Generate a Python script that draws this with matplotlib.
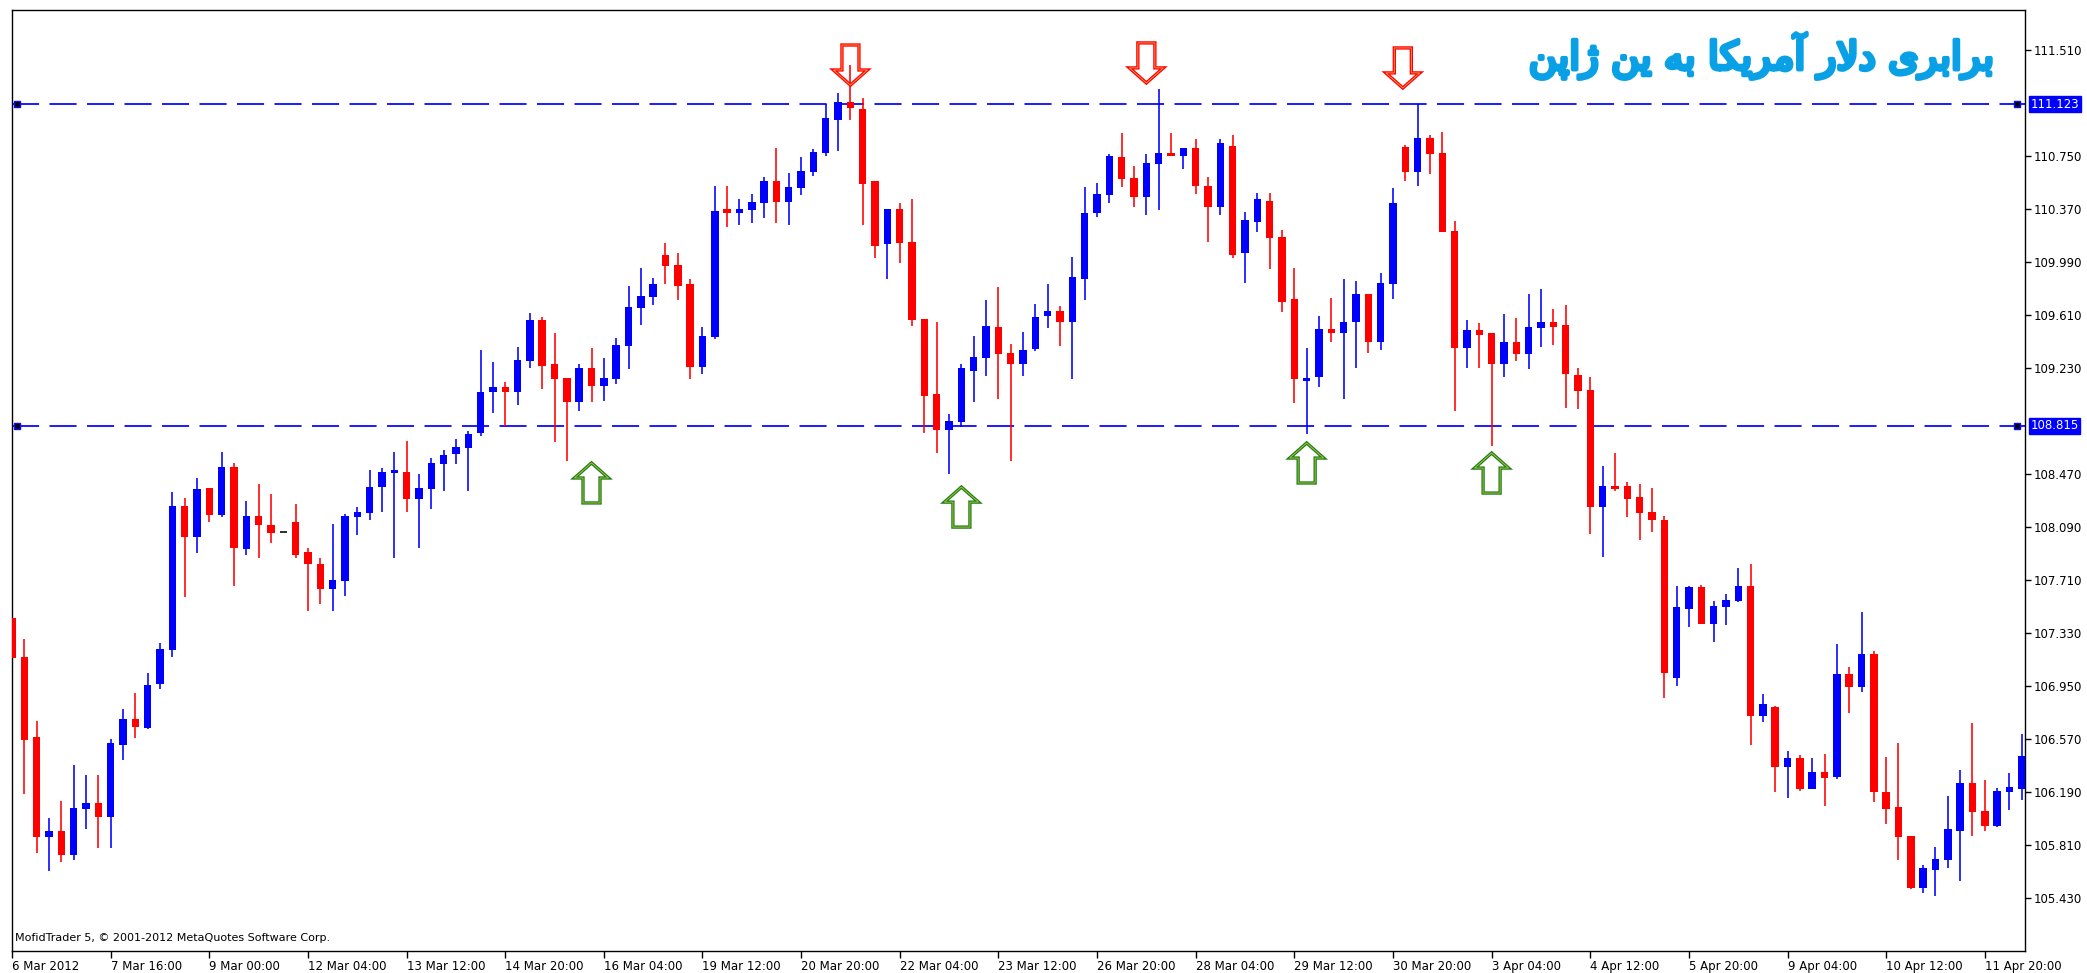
import matplotlib
matplotlib.use("Agg")
import matplotlib.pyplot as plt
import matplotlib.patheffects as pe
import matplotlib.transforms as mtransforms
from matplotlib.patches import Polygon

# H4 candles, USD/JPY, 6 Mar - 12 Apr 2012
opens = [107.441, 107.161, 106.583, 105.871, 105.914, 105.740, 106.069, 106.115, 106.012, 106.528,
         106.715, 106.648, 106.963, 107.209, 108.242, 108.022, 108.373, 108.177, 108.523, 107.931,
         108.170, 108.103, 108.050, 108.125, 107.912, 107.828, 107.647, 107.704, 108.163, 108.189,
         108.375, 108.481, 108.488, 108.292, 108.363, 108.543, 108.612, 108.660, 108.763, 109.061,
         109.097, 109.061, 109.281, 109.575, 109.257, 109.161, 108.985, 109.233, 109.104, 109.150,
         109.389, 109.659, 109.742, 110.041, 109.969, 109.831, 109.236, 109.455, 110.373, 110.340,
         110.363, 110.411, 110.574, 110.423, 110.518, 110.635, 110.769, 111.008, 111.139, 111.087,
         110.571, 110.117, 110.370, 110.136, 109.581, 109.041, 108.786, 108.845, 109.211, 109.304,
         109.522, 109.335, 109.256, 109.364, 109.600, 109.641, 109.562, 109.868, 110.339, 110.470,
         110.745, 110.594, 110.458, 110.692, 110.769, 110.750, 110.810, 110.537, 110.387, 110.821,
         110.057, 110.279, 110.430, 110.172, 109.722, 109.140, 109.164, 109.510, 109.479, 109.563,
         109.759, 109.420, 109.833, 110.817, 110.633, 110.877, 110.770, 110.215, 109.377, 109.503,
         109.479, 109.257, 109.420, 109.329, 109.515, 109.558, 109.536, 109.182, 109.076, 108.232,
         108.385, 108.385, 108.304, 108.195, 108.138, 107.010, 107.504, 107.657, 107.398, 107.516,
         107.563, 107.669, 106.738, 106.798, 106.373, 106.435, 106.213, 106.336, 106.300, 107.037,
         106.946, 107.181, 106.191, 106.080, 105.878, 105.503, 105.635, 105.703, 105.914, 106.256,
         106.056, 105.950, 106.191, 106.212]
highs = [107.460, 107.291, 106.700, 106.007, 106.127, 106.385, 106.313, 106.313, 106.571, 106.784,
         106.903, 107.042, 107.257, 108.339, 108.301, 108.445, 108.373, 108.631, 108.547, 108.277,
         108.397, 108.325, 108.050, 108.254, 107.938, 107.866, 108.113, 108.182, 108.232, 108.500,
         108.512, 108.629, 108.710, 108.469, 108.583, 108.643, 108.724, 108.782, 109.360, 109.276,
         109.133, 109.384, 109.623, 109.594, 109.479, 109.161, 109.257, 109.377, 109.305, 109.443,
         109.821, 109.950, 109.878, 110.124, 110.058, 109.866, 109.527, 110.538, 110.538, 110.442,
         110.478, 110.598, 110.808, 110.631, 110.745, 110.798, 111.123, 111.199, 111.400, 111.168,
         110.571, 110.370, 110.410, 110.439, 109.581, 109.557, 108.900, 109.256, 109.459, 109.718,
         109.808, 109.402, 109.491, 109.689, 109.832, 109.677, 110.028, 110.525, 110.559, 110.762,
         110.912, 110.678, 110.762, 111.230, 110.912, 110.810, 110.869, 110.597, 110.869, 110.900,
         110.351, 110.487, 110.487, 110.219, 109.949, 109.371, 109.606, 109.735, 109.866, 109.854,
         109.759, 109.914, 110.524, 110.829, 111.121, 110.901, 110.925, 110.287, 109.575, 109.551,
         109.479, 109.618, 109.587, 109.759, 109.795, 109.654, 109.680, 109.232, 109.163, 108.526,
         108.620, 108.410, 108.397, 108.373, 108.170, 107.669, 107.669, 107.677, 107.558, 107.607,
         107.797, 107.822, 106.892, 106.805, 106.484, 106.455, 106.435, 106.460, 107.253, 107.085,
         107.482, 107.205, 106.443, 106.539, 105.878, 105.667, 105.799, 106.164, 106.352, 106.684,
         106.280, 106.220, 106.328, 106.604]
lows = [107.140, 106.177, 105.752, 105.625, 105.692, 105.704, 105.928, 105.788, 105.788, 106.421,
        106.576, 106.640, 106.927, 107.161, 107.587, 107.902, 108.124, 108.165, 107.668, 107.890,
        107.871, 107.974, 108.050, 107.871, 107.491, 107.539, 107.491, 107.599, 108.034, 108.141,
        108.201, 107.871, 108.201, 107.938, 108.220, 108.349, 108.540, 108.349, 108.743, 108.906,
        108.815, 108.966, 109.233, 109.078, 108.703, 108.567, 108.925, 108.985, 108.997, 109.116,
        109.221, 109.539, 109.682, 109.831, 109.718, 109.150, 109.185, 109.436, 110.244, 110.256,
        110.268, 110.304, 110.268, 110.256, 110.470, 110.609, 110.750, 110.786, 111.008, 110.255,
        110.021, 109.866, 109.985, 109.531, 108.762, 108.618, 108.468, 108.810, 108.984, 109.173,
        109.008, 108.563, 109.175, 109.352, 109.514, 109.388, 109.151, 109.718, 110.315, 110.410,
        110.530, 110.387, 110.327, 110.363, 110.750, 110.654, 110.477, 110.136, 110.327, 110.016,
        109.842, 110.207, 109.937, 109.634, 108.977, 108.755, 109.092, 109.420, 109.009, 109.233,
        109.341, 109.360, 109.725, 110.574, 110.538, 110.621, 110.208, 108.925, 109.233, 109.233,
        108.672, 109.164, 109.281, 109.221, 109.384, 109.396, 108.941, 108.940, 108.044, 107.879,
        108.348, 108.163, 107.997, 108.057, 106.867, 106.948, 107.373, 107.398, 107.267, 107.385,
        107.553, 106.526, 106.694, 106.188, 106.151, 106.200, 106.213, 106.089, 106.285, 106.756,
        106.910, 106.116, 105.962, 105.703, 105.494, 105.467, 105.443, 105.647, 105.551, 105.878,
        105.914, 105.943, 106.059, 106.131]
closes = [107.152, 106.564, 105.871, 105.914, 105.740, 106.079, 106.115, 106.012, 106.540, 106.715,
          106.660, 106.961, 107.219, 108.242, 108.022, 108.361, 108.177, 108.523, 107.943, 108.170,
          108.105, 108.046, 108.050, 107.890, 107.823, 107.647, 107.711, 108.172, 108.196, 108.380,
          108.488, 108.500, 108.292, 108.368, 108.547, 108.607, 108.667, 108.758, 109.061, 109.097,
          109.061, 109.288, 109.575, 109.245, 109.150, 108.985, 109.233, 109.104, 109.161, 109.396,
          109.666, 109.749, 109.831, 109.962, 109.821, 109.236, 109.463, 110.359, 110.340, 110.373,
          110.418, 110.574, 110.423, 110.526, 110.640, 110.781, 111.020, 111.139, 111.091, 110.549,
          110.105, 110.370, 110.129, 109.574, 109.032, 108.786, 108.853, 109.232, 109.311, 109.534,
          109.330, 109.256, 109.359, 109.598, 109.641, 109.562, 109.880, 110.339, 110.477, 110.750,
          110.585, 110.458, 110.702, 110.774, 110.750, 110.810, 110.537, 110.387, 110.841, 110.040,
          110.291, 110.439, 110.160, 109.701, 109.151, 109.160, 109.510, 109.479, 109.558, 109.759,
          109.420, 109.843, 110.416, 110.633, 110.877, 110.762, 110.208, 109.377, 109.503, 109.467,
          109.257, 109.420, 109.329, 109.527, 109.558, 109.527, 109.188, 109.069, 108.232, 108.385,
          108.365, 108.291, 108.188, 108.138, 107.047, 107.514, 107.657, 107.398, 107.526, 107.570,
          107.669, 106.738, 106.822, 106.373, 106.435, 106.213, 106.336, 106.292, 107.037, 106.946,
          107.181, 106.191, 106.071, 105.871, 105.503, 105.643, 105.710, 105.926, 106.256, 106.047,
          105.950, 106.200, 106.224, 106.448]

date_labels = ["6 Mar 2012", "7 Mar 16:00", "9 Mar 00:00", "12 Mar 04:00", "13 Mar 12:00",
               "14 Mar 20:00", "16 Mar 04:00", "19 Mar 12:00", "20 Mar 20:00", "22 Mar 04:00",
               "23 Mar 12:00", "26 Mar 20:00", "28 Mar 04:00", "29 Mar 12:00", "30 Mar 20:00",
               "3 Apr 04:00", "4 Apr 12:00", "5 Apr 20:00", "9 Apr 04:00", "10 Apr 12:00",
               "11 Apr 20:00"]
price_ticks = [111.510, 110.750, 110.370, 109.990, 109.610, 109.230, 108.470, 108.090,
               107.710, 107.330, 106.950, 106.570, 106.190, 105.810, 105.430]
levels = [111.123, 108.815]

# arrows: bar index and price of the arrow tip
top_arrow_bars = [68, 92, 112.8]
top_arrow_tips = [111.259, 111.274, 111.238]
bottom_arrow_bars = [47, 77, 105, 120]
bottom_arrow_tips = [108.550, 108.377, 108.693, 108.621]

title = "برابری دلار آمریکا به ین ژاپن"
footer = "MofidTrader 5, © 2001-2012 MetaQuotes Software Corp."

BULL, BEAR, DOJI = "#0000ff", "#ff0000", "#333333"
LEVEL = "#0a0aff"
BARS_PER_LABEL = 8

# minimal Persian shaper (matplotlib has no complex text layout)
FORMS = {
    "ب": ("\ufe8f", "\ufe90", "\ufe91", "\ufe92"),
    "پ": ("\ufb56", "\ufb57", "\ufb58", "\ufb59"),
    "ی": ("\ufbfc", "\ufbfd", "\ufbfe", "\ufbff"),
    "ل": ("\ufedd", "\ufede", "\ufedf", "\ufee0"),
    "م": ("\ufee1", "\ufee2", "\ufee3", "\ufee4"),
    "ک": ("\ufb8e", "\ufb8f", "\ufb90", "\ufb91"),
    "ه": ("\ufee9", "\ufeea", "\ufeeb", "\ufeec"),
    "ن": ("\ufee5", "\ufee6", "\ufee7", "\ufee8"),
    "ا": ("\ufe8d", "\ufe8e", None, None),
    "آ": ("\ufe81", "\ufe82", None, None),
    "ر": ("\ufead", "\ufeae", None, None),
    "د": ("\ufea9", "\ufeaa", None, None),
    "ژ": ("\ufb8a", "\ufb8b", None, None),
}
FORMS["ي"] = FORMS["ی"]
FORMS["ك"] = FORMS["ک"]


def shape_fa(text):
    words = []
    for word in text.split(" "):
        res = []
        k = 0
        while k < len(word):
            ch = word[k]
            prev_joins = k > 0 and FORMS[word[k - 1]][2] is not None
            if ch == "ل" and k + 1 < len(word) and word[k + 1] == "ا":
                res.append("\ufefc" if prev_joins else "\ufefb")
                k += 2
                continue
            iso, fin, ini, med = FORMS[ch]
            next_joins = ini is not None and k + 1 < len(word)
            if prev_joins and next_joins:
                res.append(med)
            elif prev_joins:
                res.append(fin)
            elif next_joins:
                res.append(ini)
            else:
                res.append(iso)
            k += 1
        words.append("".join(res))
    return " ".join(words)[::-1]


def arrow_poly(x, tip, down):
    hw, sw = 1.38, 0.69          # half widths (bars)
    head, total = 0.108, 0.287   # heights (price)
    s = 1 if down else -1
    return [(x, tip), (x - hw, tip + s * head), (x - sw, tip + s * head),
            (x - sw, tip + s * total), (x + sw, tip + s * total),
            (x + sw, tip + s * head), (x + hw, tip + s * head)]


plt.rcParams["font.family"] = ["DejaVu Sans"]
plt.rcParams["lines.scale_dashes"] = False

fig = plt.figure(figsize=(20.87, 9.73), dpi=100)
ax = fig.add_axes([12 / 2087, 22 / 973, 2013 / 2087, 941 / 973])

n = len(opens)
xs = list(range(n))
colors = []
for o, c in zip(opens, closes):
    colors.append(BULL if c > o else (BEAR if c < o else DOJI))

ax.vlines(xs, lows, highs, colors=colors, linewidth=1.15, zorder=2)
bottoms = [min(o, c) for o, c in zip(opens, closes)]
heights = [max(abs(c - o), 0.011) for o, c in zip(opens, closes)]
ax.bar(xs, heights, bottom=bottoms, width=0.6, color=colors, linewidth=0, zorder=3)

# support / resistance lines
blend = mtransforms.blended_transform_factory(ax.transAxes, ax.transData)
for lv in levels:
    ax.axhline(lv, color=LEVEL, linewidth=1.3, dashes=(19.5, 7.5), zorder=1)
    ax.plot([0.0025, 0.996], [lv, lv], "s", ms=4.5, mfc="black", mec=LEVEL, mew=1,
            transform=blend, clip_on=False, zorder=4)
    ax.text(1.0028, lv, f"{lv:.3f}", transform=blend, ha="left", va="center",
            fontsize=8.5, color="white", zorder=5,
            bbox=dict(boxstyle="square,pad=0.12", fc="#0000ff", ec="#0000ff"))

for x, tip in zip(top_arrow_bars, top_arrow_tips):
    ax.add_patch(Polygon(arrow_poly(x, tip, True), closed=True, fill=False,
                         ec="#ff0000", lw=2.4, zorder=6))
    ax.add_patch(Polygon(arrow_poly(x, tip, True), closed=True, fill=False,
                         ec="#ffa050", lw=0.6, zorder=7))
for x, tip in zip(bottom_arrow_bars, bottom_arrow_tips):
    ax.add_patch(Polygon(arrow_poly(x, tip, False), closed=True, fill=False,
                         ec="#1f7f1a", lw=2.4, zorder=6))
    ax.add_patch(Polygon(arrow_poly(x, tip, False), closed=True, fill=False,
                         ec="#b8c840", lw=0.6, zorder=7))

ax.set_xlim(0, 163.26)
ax.set_ylim(105.051, 111.797)

ax.set_xticks(range(0, BARS_PER_LABEL * len(date_labels), BARS_PER_LABEL))
ax.set_xticklabels(date_labels, fontsize=8.5, ha="left")
ax.yaxis.tick_right()
ax.set_yticks(price_ticks)
ax.set_yticklabels([f"{p:.3f}" for p in price_ticks], fontsize=8.5)
ax.tick_params(axis="x", length=5, width=1, pad=1.5)
ax.tick_params(axis="y", length=4, width=1, pad=2)
for sp in ax.spines.values():
    sp.set_linewidth(1.0)
    sp.set_color("black")

ax.text(0.985, 0.951, shape_fa(title), transform=ax.transAxes, ha="right", va="center",
        fontsize=28, color="#0aa0e6",
        path_effects=[pe.withStroke(linewidth=3, foreground="#0aa0e6")])
ax.text(0.0015, 0.0138, footer, transform=ax.transAxes, ha="left", va="center",
        fontsize=8, color="black")

fig.savefig("out.png", dpi=100, facecolor="white")
